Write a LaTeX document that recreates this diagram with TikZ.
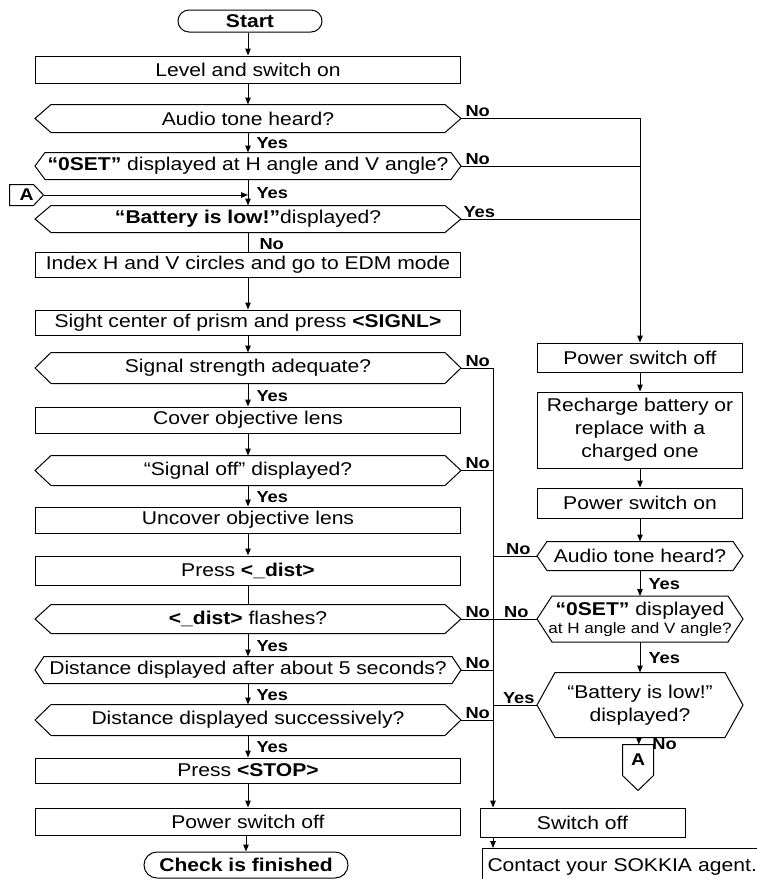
\documentclass[tikz,border=0pt]{standalone}
\usepackage{fontspec}
\setmainfont{Liberation Sans}[FakeStretch=1.14]
\usetikzlibrary{arrows.meta, positioning}

\begin{document}
\begin{tikzpicture}[
  x=1pt, y=-1pt,
  line width=1pt,
  font=\fontsize{18.5}{23}\selectfont,
  stepbox/.style={draw, rectangle, minimum width=425pt, minimum height=26pt,
                  inner sep=1pt},
  sidebox/.style={draw, rectangle, minimum width=205pt, minimum height=29pt,
                  inner sep=1pt, align=center},
  query/.style={rectangle, minimum width=425pt, minimum height=26pt,
                inner sep=0pt, align=center,
                append after command={\pgfextra{\draw
                  (\tikzlastnode.west) -- ([xshift=#1]\tikzlastnode.north west)
                  -- ([xshift=-#1]\tikzlastnode.north east) -- (\tikzlastnode.east)
                  -- ([xshift=-#1]\tikzlastnode.south east)
                  -- ([xshift=#1]\tikzlastnode.south west) -- cycle;}}},
  query/.default=16pt,
  term/.style={draw, rounded corners=11pt, minimum height=22pt, inner sep=1pt,
               font=\fontsize{18.5}{23}\selectfont\bfseries},
  linkeast/.style={rectangle, minimum width=33pt, minimum height=20pt,
                   inner sep=0pt, font=\fontsize{17}{20}\selectfont\bfseries,
                   append after command={\pgfextra{\draw
                     (\tikzlastnode.north west) -- ([xshift=-10pt]\tikzlastnode.north east)
                     -- (\tikzlastnode.east) -- ([xshift=-10pt]\tikzlastnode.south east)
                     -- (\tikzlastnode.south west) -- cycle;}}},
  linksouth/.style={rectangle, minimum width=30pt, minimum height=45pt,
                    inner sep=0pt, text depth=15pt,
                    font=\fontsize{17}{20}\selectfont\bfseries,
                    append after command={\pgfextra{\draw
                      (\tikzlastnode.north west) -- (\tikzlastnode.north east)
                      -- ([yshift=15pt]\tikzlastnode.south east) -- (\tikzlastnode.south)
                      -- ([yshift=15pt]\tikzlastnode.south west) -- cycle;}}},
  lbl/.style={font=\fontsize{16}{18}\selectfont\bfseries, inner sep=1pt},
  arr/.style={-{Triangle[length=7pt, width=5.5pt]}},
]
  \useasboundingbox (0,0) rectangle (757,879);
  \clip (0,0) rectangle (757,879);

  % main column
  \node[term, minimum width=144pt] (start) at (250,21) {Start};
  \node[stepbox, minimum height=27pt] (level) at (248,69.5) {Level and switch on};
  \node[query, minimum height=27pt] (audio) at (248,118.5) {Audio tone heard?};
  \node[query=10pt] (oset) at (248,166)
    {\textbf{“0SET”} displayed at H angle and V angle?};
  \node[query] (battery) at (248,219) {\textbf{“Battery is low!”}displayed?};
  \node[stepbox, minimum height=25pt] (index) at (248,264.5)
    {Index H and V circles and go to EDM mode};
  \node[stepbox, minimum height=25pt] (sight) at (248,322.5)
    {Sight center of prism and press \textbf{<SIGNL>}};
  \node[query, minimum height=30pt] (strength) at (248,368)
    {Signal strength adequate?};
  \node[stepbox] (cover) at (248,420) {Cover objective lens};
  \node[query, minimum height=29pt] (sigoff) at (248,470.5)
    {“Signal off” displayed?};
  \node[stepbox] (uncover) at (248,520) {Uncover objective lens};
  \node[stepbox, minimum height=29pt] (press) at (248,570.5)
    {Press \textbf{<\_dist>}};
  \node[query, minimum height=28pt] (flashes) at (248,619)
    {\textbf{<\_dist>} flashes?};
  \node[query=9pt] (dist5) at (248,670)
    {Distance displayed after about 5 seconds?};
  \node[query, minimum height=30pt] (distsucc) at (248,720)
    {Distance displayed successively?};
  \node[stepbox, minimum height=25pt] (stop) at (248,770.5)
    {Press \textbf{<STOP>}};
  \node[stepbox, minimum height=27pt] (poweroff) at (248,821.5)
    {Power switch off};
  \node[term, minimum width=204pt, minimum height=26pt, rounded corners=13pt]
    (finish) at (246,865) {Check is finished};

  % connector A on the left
  \node[linkeast] (alink) at (26.5,195) {A\hspace{10pt}};

  % recovery column
  \node[sidebox] (rpoweroff) at (640,357.5) {Power switch off};
  \node[sidebox, minimum height=76pt] (recharge) at (640,430)
    {Recharge battery or\\replace with a\\charged one};
  \node[sidebox, minimum height=30pt] (rpoweron) at (640,503) {Power switch on};
  \node[query=10pt, minimum width=205pt, minimum height=28pt] (raudio)
    at (640,556) {Audio tone heard?};
  \node[query=15pt, minimum width=205pt, minimum height=45pt] (roset)
    at (640,619)
    {\textbf{“0SET”} displayed\\[-5pt]{\fontsize{15}{18}\selectfont at H angle and V angle?}};
  \node[query=18pt, minimum width=205pt, minimum height=64pt] (rbattery)
    at (640,705) {“Battery is low!”\\displayed?};
  \node[linksouth] (rlink) at (638,767.5) {A};
  \node[sidebox] (switchoff) at (582.5,822.5) {Switch off};
  \node[draw, anchor=north west, minimum height=36pt, text width=288pt,
        align=left, inner xsep=5pt, inner ysep=4pt] (contact) at (482,848)
    {Contact your SOKKIA agent.};

  % plain arrows
  \foreach \a/\b in {level/audio, index/sight, sight/strength,
                     cover/sigoff, uncover/press, stop/poweroff,
                     rpoweroff/recharge, recharge/rpoweron, rpoweron/raudio} {
    \draw[arr] (\a) -- (\b);
  }
  \draw[arr] (start.south -| level) -- (level);
  \draw[arr] (poweroff.south -| finish) -- (finish);

  % labelled arrows
  \foreach \a/\b/\t in {audio/oset/Yes, oset/battery/Yes, strength/cover/Yes,
                        sigoff/uncover/Yes, flashes/dist5/Yes, dist5/distsucc/Yes,
                        distsucc/stop/Yes, raudio/roset/Yes, roset/rbattery/Yes} {
    \draw[arr] (\a) -- node[lbl, right, xshift=7pt, yshift=-1pt] {\t} (\b);
  }
  \draw[arr] (rbattery) -- node[lbl, right, xshift=12pt, yshift=-3pt] {No} (rlink);

  \draw (battery) -- node[lbl, right, xshift=10pt, yshift=-2pt] {No} (index);
  \draw (press) -- (flashes);
  \draw[arr] (alink.east) -- (alink.east -| battery.north);

  % branches to the recovery column
  \draw[arr] (audio.east) -| node[lbl, pos=0, anchor=south west, xshift=3pt] {No}
    (rpoweroff.north);
  \draw (oset.east) -- node[lbl, pos=0, anchor=south west, xshift=3pt] {No}
    (oset.east -| rpoweroff.north);
  \draw (battery.east) -- node[lbl, pos=0, anchor=south west, xshift=1pt] {Yes}
    (battery.east -| rpoweroff.north);

  % branches to switch off
  \coordinate (bus) at (493,368);
  \draw[arr] (strength.east) -- node[lbl, pos=0, anchor=south west, xshift=3pt] {No}
    (bus) -- (bus |- switchoff.north);
  \foreach \q in {sigoff, flashes, dist5, distsucc} {
    \draw (\q.east) -- node[lbl, pos=0, anchor=south west, xshift=3pt] {No}
      (\q.east -| bus);
  }
  \draw (raudio.west) -- node[lbl, pos=0, anchor=south east, xshift=-5pt] {No}
    (raudio.west -| bus);
  \draw (roset.west) -- node[lbl, pos=0, anchor=south east, xshift=-7pt] {No}
    (roset.west -| bus);
  \draw (rbattery.west) -- node[lbl, pos=0, anchor=south east, xshift=-1pt] {Yes}
    (rbattery.west -| bus);
  \draw[arr] (bus |- switchoff.south) -- (bus |- contact.north);
\end{tikzpicture}
\end{document}
